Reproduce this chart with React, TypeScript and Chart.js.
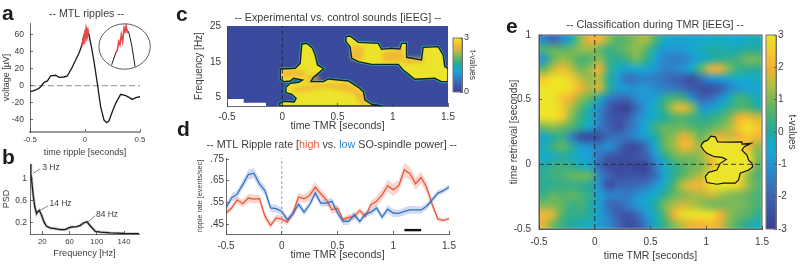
import React, { useEffect, useRef } from "react";
import { Chart, registerables } from "chart.js";

Chart.register(...registerables);

const SANS = "'Liberation Sans', Arial, sans-serif";
const INK = "#3c3c3c";

// ---- panel a
const aTimes = [-0.5,-0.464,-0.418,-0.397,-0.373,-0.342,-0.312,-0.267,-0.236,-0.191,-0.161,-0.124,-0.085,-0.055,-0.03,-0.009,0.015,0.036,0.058,0.082,0.112,0.142,0.173,0.197,0.218,0.248,0.279,0.324,0.37,0.4,0.43,0.461,0.5];
const aVolts = [-7,-5.8,-3.1,-0.4,3.9,5.5,11.3,12.1,9.7,10.1,11.3,19.5,30,37.8,46.4,59.2,63.1,59.2,45.6,28,2.7,-24.5,-40.1,-43.2,-40.9,-30.4,-20.6,-10.1,-11.7,-13.6,-16,-14,-12.9];
const aRedTimes = [-0.03,-0.02,-0.012,-0.006,0,0.006,0.012,0.018,0.024,0.03];
const aRedVolts = [46.4,50,55,53,60,58,65,62,64,60];
const insetLeftT = [0.242,0.279];
const insetLeftV = [24.2,37.8];
const insetRedT = [0.279,0.294,0.306,0.318,0.33,0.342,0.355,0.364,0.373,0.385];
const insetRedV = [37.8,41.7,51.4,47.5,59.2,51.4,67,63.1,69.7,61.2];
const insetRightT = [0.385,0.4,0.421,0.439,0.455];
const insetRightV = [65,61.2,49.5,35.8,22.2];

// ---- panel b
const psdHz = [2.2,3.2,4.2,6.7,9.1,11.6,13.1,15.6,19,22.5,26.4,31.4,38.8,46.2,53.6,58.5,63.5,70.9,75.8,80.7,85.7,90.6,98,105.4,120.2,140,162.2];
const psdVal = [1.27,1.085,1.0,0.7,0.49,0.37,0.4,0.43,0.34,0.22,0.14,0.11,0.096,0.08,0.08,0.11,0.127,0.133,0.157,0.2,0.22,0.145,0.047,0.035,0.02,0.01,0.005];
const leader3 = [[6.7,1.1],[16.5,1.18]];
const leader14 = [[16.5,0.43],[28.9,0.51]];
const leader84 = [[86.7,0.218],[98,0.328]];

// ---- panel c: contours of the significant clusters [time, frequency]
const cClusterA = [[-0.018,13],[0.117,13.19],[0.162,14.58],[0.177,19.98],[0.223,20.16],[0.274,18.77],[0.298,16.91],[0.319,14.12],[0.373,13.19],[0.334,11.98],[0.283,10.67],[0.259,9.47],[0.373,9.47],[0.418,10.21],[0.598,9.65],[0.689,7.88],[0.734,6.67],[0.749,4.35],[0.809,3.14],[0.914,2.67],[-0.018,2.67],[-0.027,3.33],[0.012,3.98],[0.108,3.79],[0.126,4.81],[0.087,5.93],[0.033,6.4],[0.033,7.88],[0.072,9],[0.147,9.28],[0.183,9.93],[0.102,10.4],[0.072,9.65],[0.012,9.47],[-0.018,10.12],[-0.018,13]];
const cClusterB = [[0.577,22.02],[0.614,22.2],[0.689,20.44],[0.869,20.16],[0.899,18.49],[0.989,18.77],[1.065,18.58],[1.08,20.16],[1.125,20.16],[1.125,16.26],[1.26,15.51],[1.275,19.05],[1.411,19.23],[1.456,16.91],[1.471,13.65],[1.5,13.19],[1.5,9.47],[1.441,9.47],[1.38,10.4],[1.2,10.12],[1.095,12.72],[1.05,14.3],[0.809,14.3],[0.689,15.05],[0.629,15.98],[0.614,19.23],[0.577,20.63],[0.577,22.02]];
const cMask = [[-0.5,2.67],[-0.5,4.63],[-0.349,4.63],[-0.349,3.6],[-0.147,3.6],[-0.147,2.67],[-0.5,2.67]];
const cWarmLeft = [[0,10.4],[0.1,11],[0.2,10.8],[0.22,12.4],[0.1,12.8],[0,12.8]];
const cWarmNeck = [[0.2,9.6],[0.36,9.6],[0.32,11],[0.24,11.4]];
const cWarmFoot = [[0.05,7.4],[0.3,8.8],[0.6,9],[0.72,6.6],[0.76,3.4],[0.86,2.7],[0.72,2.7],[0.64,6.4],[0.4,7.8],[0.14,6.6]];
const cWarmTopA = [[0.62,15.8],[0.72,15.2],[0.74,19],[0.64,19.6]];
const cWarmTopB = [[0.92,15],[1.08,15],[1.1,19],[0.98,18],[0.9,17.6]];
const cWarmTopC = [[1.08,14.4],[1.28,14.8],[1.28,16.2],[1.12,16.2]];

// ---- panel d
const dTimes = [-0.5,-0.45,-0.4,-0.35,-0.3,-0.25,-0.2,-0.15,-0.1,-0.05,0,0.05,0.1,0.15,0.2,0.25,0.3,0.35,0.4,0.45,0.5,0.55,0.6,0.65,0.7,0.75,0.8,0.85,0.9,0.95,1,1.05,1.1,1.15,1.2,1.25,1.3,1.35,1.4,1.45,1.5];
const dHigh = [0.501,0.524,0.562,0.544,0.57,0.565,0.567,0.485,0.444,0.478,0.473,0.459,0.501,0.575,0.567,0.582,0.621,0.59,0.562,0.516,0.524,0.47,0.481,0.485,0.512,0.485,0.539,0.555,0.585,0.627,0.608,0.627,0.701,0.682,0.636,0.665,0.619,0.539,0.473,0.467,0.475];
const dLow = [0.524,0.57,0.588,0.632,0.678,0.685,0.635,0.604,0.524,0.521,0.508,0.47,0.496,0.542,0.505,0.539,0.593,0.547,0.547,0.555,0.501,0.462,0.462,0.493,0.462,0.496,0.505,0.524,0.482,0.519,0.501,0.499,0.508,0.515,0.515,0.515,0.532,0.562,0.593,0.604,0.621];
const dHighSem = [0.012,0.014,0.016,0.018,0.02,0.02,0.02,0.018,0.016,0.016,0.015,0.014,0.016,0.02,0.02,0.024,0.024,0.022,0.02,0.018,0.016,0.014,0.014,0.016,0.016,0.016,0.018,0.022,0.026,0.028,0.028,0.028,0.032,0.03,0.028,0.028,0.024,0.018,0.012,0.008,0.008];
const dLowSem = [0.016,0.018,0.018,0.02,0.022,0.024,0.022,0.02,0.018,0.018,0.016,0.014,0.016,0.018,0.016,0.016,0.018,0.016,0.016,0.016,0.016,0.016,0.016,0.016,0.014,0.014,0.014,0.016,0.016,0.018,0.018,0.016,0.018,0.018,0.018,0.016,0.016,0.014,0.014,0.012,0.012];
const dBarT = [1.1,1.25];
const dBarY = [0.422,0.422];

// ---- panel e: t-values, rows from retrieval time 1 down to -0.5
const eGrid = [
[-1.2,-2,-1.2,-0.2,1.2,2,2.1,1.2,0.6,0.8,1.2,1.4,0.6,-0.4,-0.6,-0.6,-0.5,-0.5,-0.4,-0.3,-0.4,-0.5,-0.3,-0.2],
[0.5,0.8,0.7,0.9,1.2,1.3,0.8,0.3,0.6,0.9,1.2,0.7,-0.2,-1,-1,-0.9,-0.6,-0.3,0,-0.1,-0.2,-0.1,0.1,0],
[-1,0.8,1.3,1,0.5,0.6,1.2,0.3,0.1,0.4,1,0.3,-0.6,-1.3,-1.5,-1.4,-1,-0.5,-0.1,0.2,0.3,0.5,1,0.9],
[0.8,1.6,2.2,1.5,0.9,1.3,2,0.4,-0.3,-0.7,-0.4,-0.6,-0.9,-1.4,-1.3,-1,-0.3,0.8,2,1.9,1,0.3,0.2,0.1],
[2.5,2.9,3,2.6,1.6,1.2,1.4,0.1,-0.9,-1.8,-1.6,-1.4,-1.5,-1.7,-2,-2.2,-2.6,-1.7,-1,-0.8,-0.6,-0.4,-0.5,-0.3],
[3,3,3,2.8,2,1.4,1.8,0.2,-0.7,-0.9,-1,-0.9,-1.2,-1.4,-1.5,-1.9,-2.2,-2.6,-2.6,-2.2,-1.4,-0.9,-0.6,-0.7],
[3,3,2.4,2,1.2,0.8,-0.2,-1.5,-1.8,-1.8,-1.2,-0.9,-0.7,0.2,0.5,0.4,-1.2,-2,-1.8,-1.1,-0.3,0.5,0.2,-0.3],
[3,3,2.6,1.4,0.6,-0.2,-1.2,-2.2,-2.8,-2.9,-1.8,-0.9,-0.3,0.5,1.6,2.1,1.2,-0.9,-0.8,-0.3,0.3,0.6,0.6,0.1],
[2.9,3,2.5,1.1,0.3,-0.3,-1.4,-2.2,-2.5,-2.2,-1.3,-0.8,-0.3,0,0.5,0.6,0.4,0.1,0.2,0.5,1,2,2.2,1.7],
[0.9,1.2,0.9,0.6,0,-0.6,-1.5,-2,-2.6,-1.9,-1.2,-0.5,0.4,0.8,0.8,0.9,0.6,0.5,0.7,1,1.4,2.4,3,2.4],
[-0.6,0,0.3,-1.4,-2.6,-2.8,-2.6,-1.8,-1.7,-1.6,-1.2,-0.8,-0.1,0.8,1.2,1.9,1.5,0.8,1.5,2,1.6,2,2.4,2.1],
[-0.2,0.4,0.8,0.2,-0.8,-1,-1.4,-1,-1.7,-2.6,-2.7,-1.8,-0.5,0.8,1.3,2.1,1.8,1.3,3,3,3,3,2,1.2],
[-0.4,-0.3,0,-0.2,-0.6,-0.8,-1.6,-2.3,-2.4,-2.6,-2.3,-2,-1,0.1,0.8,1.1,1,1.3,2.3,3,3,3,3,1],
[-0.1,0.3,0.4,0.2,-0.2,-0.5,-1.9,-2.6,-2.7,-2.7,-2.8,-2.8,-1.6,-0.4,0.2,0.6,0.9,1,1.8,3,3,3,2.5,0.8],
[0.2,0.4,0.5,0.8,0.9,0.8,-1.3,-2,-2.5,-2.4,-2.4,-2.4,-1.8,-0.6,0.2,0.7,1.2,1.6,3,3,3,3,1.2,0.5],
[0.1,0.2,0.3,0.3,0.2,0,-1.2,-2.6,-2,-1.9,-1.8,-1.6,-1,-0.3,0.6,1.6,2.1,2.1,2.9,3,3,2.6,1.3,0.7],
[0.3,0.8,0.6,0.8,0.5,0.2,-0.8,-1.3,-1.3,-1.6,-1.1,-0.7,-0.4,0.2,0.8,1.1,1.3,1.4,1.7,1.4,1.1,1,0.8,0.5],
[1,1,0.8,0.3,0.5,0,-0.8,-1.8,-2,-1.4,-0.9,-0.6,0,1,1.4,1.7,1.5,1.2,0.9,0.9,1,1,0.8,0.5],
[2.1,1.8,0.6,0.2,0.3,0,-0.7,-1.5,-2.2,-2.4,-1.9,-1,-0.3,0.7,2,2.8,3,3,2.9,2,1.2,0.8,0.7,0.2],
[1.8,0.9,0.3,0,-0.2,-0.4,-0.8,-1.2,-1.9,-2.6,-2.4,-1.5,-0.2,0.3,1.1,1.6,2,2.1,2.2,1.8,1,0.5,0.1,-0.2],
];
const eCluster = [[0.952,0.144],[0.976,0.174],[1.012,0.187],[1.042,0.218],[1.081,0.213],[1.102,0.174],[1.216,0.172],[1.32,0.174],[1.32,0.156],[1.401,0.162],[1.341,0.136],[1.32,0.11],[1.365,0.072],[1.38,0.033],[1.41,0.008],[1.416,-0.018],[1.38,-0.044],[1.305,-0.069],[1.29,-0.121],[1.26,-0.146],[1.156,-0.146],[1.096,-0.154],[1.006,-0.141],[0.991,-0.095],[1.021,-0.062],[1.096,-0.044],[1.126,0.008],[1.18,0.038],[1.141,0.054],[1.072,0.059],[1.006,0.085],[0.976,0.11],[0.952,0.144]];
const cbarLevelsE = [3,2.75,2.5,2.25,2,1.75,1.5,1.25,1,0.75,0.5,0.25,0,-0.25,-0.5,-0.75,-1,-1.25,-1.5,-1.75,-2,-2.25,-2.5,-2.75,-3];
const cbarLevelsC = [3,2.75,2.5,2.25,2,1.75,1.5,1.25,1,0.75,0.5,0.25,0];

// ---- colour map, fraction -> colour
const mapStops: [number, number[]][] = [
  [0, [58, 63, 147]],
  [0.17, [62, 100, 178]],
  [0.33, [36, 148, 212]],
  [0.43, [20, 172, 205]],
  [0.5, [34, 170, 160]],
  [0.6, [80, 178, 110]],
  [0.68, [130, 186, 84]],
  [0.76, [190, 190, 60]],
  [0.83, [244, 176, 54]],
  [0.91, [243, 200, 48]],
  [1, [237, 228, 39]],
];
function colourAt(f: number): number[] {
  const t = Math.max(0, Math.min(1, f));
  for (let i = 1; i < mapStops.length; i++) {
    if (t <= mapStops[i][0]) {
      const [a, ca] = mapStops[i - 1];
      const [b, cb] = mapStops[i];
      const k = (t - a) / (b - a);
      return ca.map((c, j) => Math.round(c + (cb[j] - c) * k));
    }
  }
  return mapStops[mapStops.length - 1][1];
}

// ---- plugins
const heatPlugin = {
  id: "heat",
  beforeDatasetsDraw(chart: any) {
    const { ctx, chartArea: ca } = chart;
    chart.data.datasets.forEach((ds: any) => {
      if (!ds.heat) return;
      const { cols, rows, cellW, cellH, lo, hi } = ds.heat;
      const off = document.createElement("canvas");
      off.width = cols;
      off.height = rows;
      const o = off.getContext("2d")!;
      ds.data.forEach((c: any) => {
        const rgb = colourAt((c.v - lo) / (hi - lo));
        o.fillStyle = `rgb(${rgb[0]},${rgb[1]},${rgb[2]})`;
        o.fillRect(c.col, c.row, 1, 1);
      });
      const xs = ds.data.map((c: any) => c.x);
      const ys = ds.data.map((c: any) => c.y);
      const x0 = chart.scales.x.getPixelForValue(Math.min(...xs) - cellW / 2);
      const x1 = chart.scales.x.getPixelForValue(Math.max(...xs) + cellW / 2);
      const y0 = chart.scales.y.getPixelForValue(Math.max(...ys) + cellH / 2);
      const y1 = chart.scales.y.getPixelForValue(Math.min(...ys) - cellH / 2);
      ctx.save();
      ctx.beginPath();
      ctx.rect(ca.left, ca.top, ca.width, ca.height);
      ctx.clip();
      ctx.imageSmoothingEnabled = true;
      ctx.imageSmoothingQuality = "high";
      if (cols > 1) ctx.filter = "blur(0.8px)";
      ctx.drawImage(off, x0, y0, x1 - x0, y1 - y0);
      ctx.restore();
    });
  },
};

const polyPlugin = {
  id: "poly",
  beforeDatasetDraw(chart: any, args: any) {
    const ds = chart.data.datasets[args.index];
    if (!ds.polyFill) return;
    const pts = args.meta.data;
    const { ctx, chartArea: ca } = chart;
    ctx.save();
    ctx.beginPath();
    ctx.rect(ca.left, ca.top, ca.width, ca.height);
    ctx.clip();
    if (ds.polyBlur) ctx.filter = `blur(${ds.polyBlur}px)`;
    ctx.beginPath();
    pts.forEach((p: any, i: number) => (i ? ctx.lineTo(p.x, p.y) : ctx.moveTo(p.x, p.y)));
    ctx.closePath();
    ctx.fillStyle = ds.polyFill;
    ctx.fill();
    ctx.restore();
  },
};

const decorPlugin = {
  id: "decor",
  beforeDatasetsDraw(chart: any, _a: any, opts: any) {
    const { ctx, chartArea: ca } = chart;
    if (opts.plotFill) {
      ctx.fillStyle = opts.plotFill;
      ctx.fillRect(ca.left, ca.top, ca.width, ca.height);
    }
  },
  afterDraw(chart: any, _a: any, opts: any) {
    const { ctx, chartArea: ca } = chart;
    ctx.save();
    if (opts.frame) {
      ctx.strokeStyle = opts.frame;
      ctx.lineWidth = 1;
      ctx.strokeRect(ca.left, ca.top, ca.width, ca.height);
    }
    if (opts.ring) {
      const r = opts.ring;
      ctx.strokeStyle = "#333";
      ctx.lineWidth = 0.8;
      ctx.beginPath();
      ctx.ellipse(chart.scales.x.getPixelForValue(r.x), chart.scales.y.getPixelForValue(r.y), r.rx, r.ry, 0, 0, Math.PI * 2);
      ctx.stroke();
    }
    (opts.texts || []).forEach((t: any) => {
      ctx.font = t.font;
      ctx.fillStyle = t.color || INK;
      ctx.textBaseline = t.baseline || "middle";
      ctx.textAlign = t.align || "center";
      ctx.fillText(t.text, t.x, t.y);
    });
    if (opts.spans) {
      const s = opts.spans;
      let x = s.x;
      ctx.font = s.font;
      ctx.textBaseline = "middle";
      ctx.textAlign = "left";
      s.parts.forEach((p: any) => {
        ctx.fillStyle = p.color;
        ctx.fillText(p.text, x, s.y);
        x += ctx.measureText(p.text).width;
      });
    }
    ctx.restore();
  },
};

// ---- helpers
const pairs = (xs: number[], ys: number[]) => xs.map((x, i) => ({ x, y: ys[i] }));
const pts = (list: number[][]) => list.map(([x, y]) => ({ x, y }));

function line(data: any[], color: string, width: number, extra: any = {}) {
  return { type: "scatter", data, showLine: true, borderColor: color, backgroundColor: color, borderWidth: width, pointRadius: 0, tension: 0, fill: false, ...extra };
}

function axis(o: any) {
  return {
    type: "linear",
    display: o.display !== false,
    position: o.position,
    min: o.min,
    max: o.max,
    afterBuildTicks(s: any) {
      s.ticks = (o.ticks || []).map((value: number) => ({ value }));
    },
    afterFit(s: any) {
      if (s.isHorizontal()) s.height = o.size;
      else s.width = o.size;
    },
    grid: { display: true, drawOnChartArea: false, drawTicks: true, tickLength: o.tick ?? -3, color: o.tickColor || "#444", lineWidth: 0.8, z: 1 },
    border: { display: true, color: o.borderColor || "#444", width: o.borderWidth || 0.8, z: 1 },
    ticks: {
      autoSkip: false,
      maxRotation: 0,
      minRotation: 0,
      padding: o.pad ?? 6,
      color: INK,
      font: { family: SANS, size: o.fontSize || 9 },
      callback: (v: number) => (o.labels ? o.labels[o.ticks.indexOf(v)] : String(v)),
    },
    title: o.title
      ? { display: true, text: o.title, color: INK, font: { family: SANS, size: o.titleSize || 10 }, padding: { top: 0, bottom: 0 } }
      : { display: false },
  };
}

const W = 800;
const H = 264;

function panel(rect: any, xAxis: any, yAxis: any, datasets: any[], decor: any = {}) {
  const right = yAxis.position === "right";
  datasets.forEach((d, i) => (d.order = -i));
  return {
    type: "scatter",
    data: { datasets },
    options: {
      responsive: false,
      animation: false,
      events: [],
      layout: {
        autoPadding: false,
        padding: {
          left: right ? rect.l : rect.l - yAxis.size,
          right: right ? W - rect.r - yAxis.size : W - rect.r,
          top: rect.t,
          bottom: xAxis.display === false ? H - rect.b : H - rect.b - xAxis.size,
        },
      },
      scales: { x: axis(xAxis), y: axis(yAxis) },
      plugins: { legend: { display: false }, tooltip: { enabled: false }, title: { display: false }, decor },
    },
    plugins: [heatPlugin, polyPlugin, decorPlugin],
  };
}

function gridCells(grid: number[][], xStart: number, xStep: number, yStart: number, yStep: number) {
  const cells: any[] = [];
  grid.forEach((r, row) =>
    r.forEach((v, col) => cells.push({ x: xStart + (col + 0.5) * xStep, y: yStart - (row + 0.5) * yStep, v, col, row })),
  );
  return cells;
}

function colourbar(rect: any, levels: number[], lo: number, hi: number, ticks: number[], fontSize: number, size: number, titleSize: number) {
  const step = (hi - lo) / (levels.length - 1);
  const cells = levels.map((v, row) => ({ x: 0.5, y: v, v, col: 0, row }));
  const ds: any = { type: "scatter", data: cells, pointRadius: 0, showLine: false, heat: { cols: 1, rows: levels.length, cellW: 1, cellH: step, lo, hi } };
  const cfg = panel(
    rect,
    { display: false, min: 0, max: 1, size: 0, ticks: [] },
    { position: "right", min: lo, max: hi, ticks, size, fontSize, pad: 4, tick: -2, title: "t-values", titleSize },
    [ds],
    { frame: "#777" },
  );
  return cfg;
}

function buildConfigs() {
  const letter = (text: string, x: number, y: number) => ({ text, x, y, font: `bold 21px ${SANS}`, color: "#1c1c1c", baseline: "alphabetic", align: "left" });

  const a = panel(
    { l: 30, r: 140, t: 23, b: 132 },
    { min: -0.5, max: 0.5, ticks: [-0.5, 0, 0.5], labels: ["-0.5", "0", "0.5"], size: 26, fontSize: 7.8, pad: 6, title: "time ripple [seconds]", titleSize: 9, borderColor: "#9a9a9a", borderWidth: 2 },
    { min: -54, max: 73, ticks: [60, 40, 20, 0, -20, -40], size: 29, fontSize: 8.5, pad: 9, title: "voltage [\u00b5V]", titleSize: 9 },
    [
      line(pairs([-0.5, 0.5], [0, 0]), "#a5a5a5", 1.3, { borderDash: [6, 3] }),
      line(pairs(aTimes, aVolts), "#1a1a1a", 1.3),
      line(pairs(aRedTimes, aRedVolts), "#e8474a", 2.4),
      line(pairs(insetLeftT, insetLeftV), "#1a1a1a", 1),
      line(pairs(insetRightT, insetRightV), "#1a1a1a", 1),
      line(pairs(insetRedT, insetRedV), "#e8474a", 1.6),
    ],
    {
      ring: { x: 0.36, y: 45.6, rx: 25.7, ry: 22.7 },
      texts: [letter("a", 2, 20), { text: "-- MTL ripples --", x: 86.7, y: 14.5, font: `10.6px ${SANS}` }],
    },
  );

  const b = panel(
    { l: 30, r: 139, t: 164, b: 234 },
    { min: 2, max: 162, ticks: [20, 60, 100, 140], size: 25, fontSize: 7.8, pad: 6, title: "Frequency [Hz]", titleSize: 9.2 },
    { min: 0, max: 1.27, ticks: [0.2, 0.6, 1], labels: ["0.2", "0.6", "1"], size: 29, fontSize: 8.5, pad: 6, title: "PSD", titleSize: 9 },
    [
      line(pairs(psdHz, psdVal), "#c9c9c9", 3),
      line(pairs(psdHz, psdVal), "#1a1a1a", 1.3),
      line(pts(leader3), "#555", 0.7),
      line(pts(leader14), "#555", 0.7),
      line(pts(leader84), "#555", 0.7),
    ],
    {
      texts: [
        letter("b", 2, 164),
        { text: "3 Hz", x: 51, y: 168, font: `8.5px ${SANS}` },
        { text: "14 Hz", x: 60.5, y: 203.7, font: `8.5px ${SANS}` },
        { text: "84 Hz", x: 107, y: 214.3, font: `8.5px ${SANS}` },
      ],
    },
  );

  const teal = "#27a8a8";
  const yellow = "#ece32b";
  const warm = "rgba(243,170,60,0.75)";
  const warmPatch = (list: number[][]) => line(pts(list), "transparent", 0, { polyFill: warm, polyBlur: 2 });
  const c = panel(
    { l: 227, r: 448, t: 26, b: 106 },
    { min: -0.5, max: 1.5, ticks: [-0.5, 0, 0.5, 1, 1.5], labels: ["-0.5", "0", "0.5", "1", "1.5"], size: 26, fontSize: 10, pad: 8, title: "time TMR [seconds]", titleSize: 10.6 },
    { min: 2.67, max: 25, ticks: [5, 15, 25], size: 34, fontSize: 10, pad: 9, title: "Frequency [Hz]", titleSize: 10 },
    [
      line(pts(cMask), "#ffffff", 0, { polyFill: "#ffffff" }),
      line(pts(cClusterA), teal, 3),
      line(pts(cClusterB), teal, 3),
      line(pts(cClusterA), "transparent", 0, { polyFill: yellow }),
      line(pts(cClusterB), "transparent", 0, { polyFill: yellow }),
      warmPatch(cWarmLeft),
      warmPatch(cWarmNeck),
      warmPatch(cWarmFoot),
      warmPatch(cWarmTopA),
      warmPatch(cWarmTopB),
      warmPatch(cWarmTopC),
      line(pts(cClusterA), "#15202a", 1.4),
      line(pts(cClusterB), "#15202a", 1.4),
      line(pairs([0, 0], [2.67, 25]), "#232850", 1.1, { borderDash: [4, 2.5] }),
    ],
    {
      plotFill: "#3a4a9c",
      texts: [letter("c", 176, 21), { text: "-- Experimental vs. control sounds [iEEG] --", x: 338, y: 18, font: `10.75px ${SANS}` }],
    },
  );

  const bandR = "rgba(236,120,90,0.3)";
  const bandB = "rgba(110,130,215,0.3)";
  const d = panel(
    { l: 226, r: 449, t: 158, b: 234 },
    { min: -0.5, max: 1.5, ticks: [-0.5, 0, 0.5, 1, 1.5], labels: ["-0.5", "0", "0.5", "1", "1.5"], size: 27, fontSize: 10, pad: 9, title: "time TMR [seconds]", titleSize: 10.6 },
    { min: 0.404, max: 0.755, ticks: [0.45, 0.55, 0.65, 0.75], labels: [".45", ".55", ".65", ".75"], size: 30, fontSize: 10, pad: 5, title: "ripple rate [events/sec]", titleSize: 7.2 },
    [
      line(pairs(dTimes, dHigh.map((v, i) => v + dHighSem[i])), "transparent", 0, { fill: "+1", backgroundColor: bandR }),
      line(pairs(dTimes, dHigh.map((v, i) => v - dHighSem[i])), "transparent", 0),
      line(pairs(dTimes, dLow.map((v, i) => v + dLowSem[i])), "transparent", 0, { fill: "+1", backgroundColor: bandB }),
      line(pairs(dTimes, dLow.map((v, i) => v - dLowSem[i])), "transparent", 0),
      line(pairs(dTimes, dHigh), "#e8583a", 1.3),
      line(pairs(dTimes, dLow), "#2e75c0", 1.3),
      line(pairs([0, 0], [0.404, 0.755]), "#999", 0.9, { borderDash: [3, 2] }),
      line(pairs(dBarT, dBarY), "#111", 2.4),
    ],
    {
      texts: [letter("d", 177, 136)],
      spans: {
        x: 206.5,
        y: 145,
        font: `10.75px ${SANS}`,
        parts: [
          { text: "-- MTL Ripple rate [", color: INK },
          { text: "high", color: "#e8583a" },
          { text: " vs. ", color: INK },
          { text: "low", color: "#2e88c8" },
          { text: " SO-spindle power] --", color: INK },
        ],
      },
    },
  );

  const rows = eGrid.length;
  const cols = eGrid[0].length;
  const cw = 2 / cols;
  const ch = 1.5 / rows;
  const e = panel(
    { l: 539, r: 762, t: 35, b: 229 },
    { min: -0.5, max: 1.5, ticks: [-0.5, 0, 0.5, 1, 1.5], labels: ["-0.5", "0", "0.5", "1", "1.5"], size: 33, fontSize: 10, pad: 10, title: "time TMR [seconds]", titleSize: 10.5 },
    { min: -0.5, max: 1, ticks: [-0.5, 0, 0.5, 1], labels: ["-0.5", "0", "0.5", "1"], size: 31, fontSize: 10, pad: 11, title: "time retrieval [seconds]", titleSize: 10.2 },
    [
      { type: "scatter", data: gridCells(eGrid, -0.5, cw, 1, ch), pointRadius: 0, showLine: false, heat: { cols, rows, cellW: cw, cellH: ch, lo: -3, hi: 3 } },
      line(pts(eCluster), "#111", 1.2, { polyFill: "#ece32b" }),
      line(pairs([0, 0], [-0.5, 1]), "#2a2a2a", 0.9, { borderDash: [5, 3] }),
      line(pairs([-0.5, 1.5], [0, 0]), "#2a2a2a", 0.9, { borderDash: [5, 3] }),
    ],
    {
      frame: "#555",
      texts: [letter("e", 506, 33), { text: "-- Classification during TMR [iEEG] --", x: 655, y: 25, font: `10.8px ${SANS}` }],
    },
  );

  const cbarC = colourbar({ l: 453, r: 462, t: 38, b: 92 }, cbarLevelsC, 0, 3, [0, 3], 9, 15, 8.5);
  const cbarE = colourbar({ l: 766, r: 776, t: 35, b: 229 }, cbarLevelsE, -3, 3, [3, 2, 1, 0, -1, -2, -3], 10, 22, 10);

  return [a, b, c, d, e, cbarC, cbarE];
}

export default function App() {
  const hostRef = useRef<HTMLDivElement>(null);
  useEffect(() => {
    document.body.style.margin = "0";
    document.body.style.background = "#ffffff";
    const host = hostRef.current!;
    const charts = buildConfigs().map((cfg: any) => {
      const canvas = document.createElement("canvas");
      canvas.width = W;
      canvas.height = H;
      canvas.style.cssText = `position:absolute;left:0;top:0;width:${W}px;height:${H}px`;
      host.appendChild(canvas);
      return new Chart(canvas, cfg);
    });
    return () => {
      charts.forEach((ch) => {
        const cv = ch.canvas;
        ch.destroy();
        cv.remove();
      });
    };
  }, []);
  return <div ref={hostRef} style={{ position: "relative", width: W, height: H, overflow: "hidden", background: "#fff" }} />;
}
